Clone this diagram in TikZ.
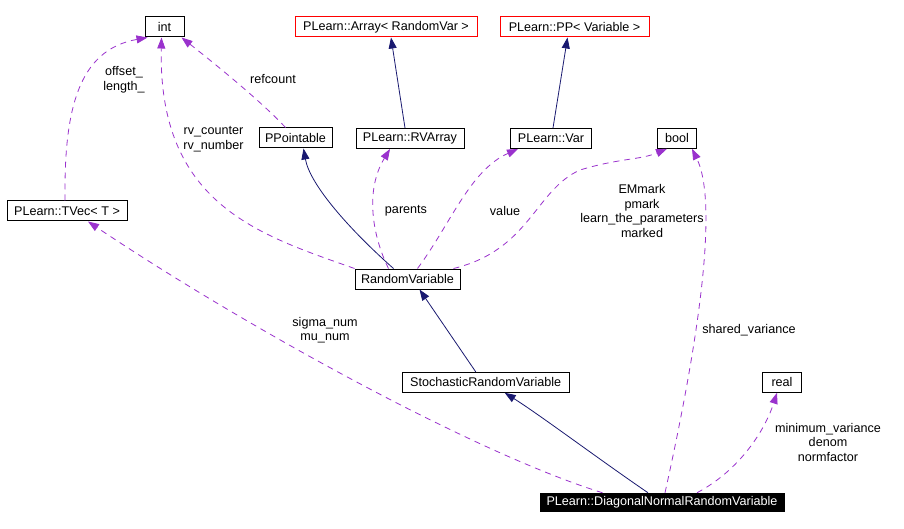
\documentclass[tikz,border=0pt]{standalone}
\usepackage{fontspec}
\setmainfont{Liberation Sans}
\usetikzlibrary{arrows.meta,calc}
\definecolor{navyc}{HTML}{191970}
\definecolor{purp}{HTML}{9A32CD}
\begin{document}
\begin{tikzpicture}[x=1pt,y=-1pt,
  font=\fontsize{12.6}{14.5}\selectfont,
  cls/.style={draw=black,line width=1pt,inner sep=0pt,minimum height=20pt,fill=white},
  ext/.style={cls,draw=red},
  cur/.style={cls,fill=black,text=white,draw=black},
  inh/.style={draw=navyc,line width=0.8pt,-{Triangle[length=11pt,width=8pt]}},
  dep/.style={draw=purp,line width=0.8pt,dash pattern=on 6pt off 5pt,-{Triangle[length=11pt,width=8pt]}},
  lbl/.style={align=center,inner sep=0pt}]
\fill[white] (0,0) rectangle (904,529);
\useasboundingbox (0,0) rectangle (904,529);

\node[cls,minimum width=39pt] (int) at (164.5,27) {int};
\node[ext,minimum width=182pt] (arr) at (386,27) {PLearn::Array< RandomVar >};
\node[ext,minimum width=149pt] (pp) at (574.5,27) {PLearn::PP< Variable >};
\node[cls,minimum width=73pt] (ppt) at (295.5,138) {PPointable};
\node[cls,minimum width=108pt] (rva) at (410,138.5) {PLearn::RVArray};
\node[cls,minimum width=81pt] (var) at (551,138.5) {PLearn::Var};
\node[cls,minimum width=39pt] (bool) at (677,138.3) {bool};
\node[cls,minimum width=120pt] (tvec) at (67,211) {PLearn::TVec< T >};
\node[cls,minimum width=105pt] (rv) at (407.5,279) {RandomVariable};
\node[cls,minimum width=167pt] (srv) at (485.7,382.3) {StochasticRandomVariable};
\node[cls,minimum width=39pt] (real) at (782,382.3) {real};
\node[cur,minimum width=244pt,minimum height=18.5pt] (dn) at (662,502.5) {PLearn::DiagonalNormalRandomVariable};

% edges
\draw[dep] ($(tvec.north)+(-2,0)$) .. controls (64,110) and (78,50) .. ($(int.south west)+(3,0)$);
\draw[dep] (rv.north west) .. controls (260,235) and (158,205) .. ($(int.south)+(-3,0)$);
\draw[dep] ($(ppt.north)+(-10,0)$) .. controls (260,100) and (210,60) .. ($(int.south east)+(-3,0)$);
\draw[inh] ($(rv.north)+(-14,0)$) .. controls (350,230) and (310,185) .. ($(ppt.south)+(8,0)$);
\draw[inh] ($(rva.north)+(-5,0)$) -- ($(arr.south)+(5,0)$);
\draw[inh] ($(var.north)+(2,0)$) -- ($(pp.south)+(-7,0)$);
\draw[dep] ($(rv.north)+(-19,0)$) .. controls (372,235) and (365,190) .. ($(rva.south)+(-20,0)$);
\draw[dep] ($(rv.north)+(10,0)$) .. controls (450,225) and (470,170) .. ($(var.south)+(-33,0)$);
\draw[dep] ($(rv.north east)+(-7,0)$) .. controls (530,250) and (535,190) .. (580,170) .. controls (620,158) and (640,160) .. ($(bool.south)+(-10,0)$);
\draw[dep] ($(dn.north)+(3,0)$) .. controls (690,380) and (722,210) .. ($(bool.south east)+(-5,0)$);
\draw[dep] ($(dn.north west)+(63,0)$) .. controls (480,455) and (250,330) .. ($(tvec.south)+(21,0)$);
\draw[inh] ($(srv.north)+(-10,0)$) -- ($(rv.south)+(12,0)$);
\draw[inh] ($(dn.north)+(-14,0)$) .. controls (600,460) and (540,415) .. ($(srv.south)+(19,0)$);
\draw[dep] ($(dn.north)+(35,0)$) .. controls (740,470) and (765,430) .. ($(real.south)+(-5,0)$);

% labels
\node[lbl] (l1) at (124,80) {offset\_\\length\_};
\node[lbl] (l2) at (273,79) {refcount};
\node[lbl] (l3) at (213.5,139) {rv\_counter\\rv\_number};
\node[lbl] (l4) at (406,211) {parents};
\node[lbl] (l5) at (505,211) {value};
\node[lbl] (l6) at (642,211) {EMmark\\pmark\\learn\_the\_parameters\\marked};
\node[lbl] (l7) at (749,330) {shared\_variance};
\node[lbl] (l8) at (325,330) {sigma\_num\\mu\_num};
\node[lbl] (l9) at (828,442) {minimum\_variance\\denom\\normfactor};
\end{tikzpicture}
\end{document}
